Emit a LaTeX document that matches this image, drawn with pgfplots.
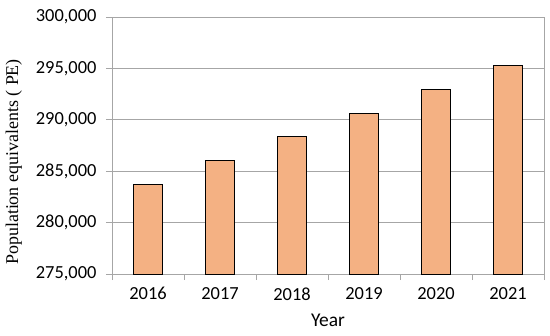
\documentclass[border=0pt]{standalone}
\usepackage{fontspec}
\setmainfont{Carlito}
\newfontfamily\labserif{Liberation Serif}
\usepackage{pgfplots}
\pgfplotsset{compat=1.18}
\definecolor{barfill}{HTML}{F4B183}
\definecolor{gridgray}{HTML}{A6A6A6}
\begin{document}
\begin{tikzpicture}
\useasboundingbox (-112bp,-62bp) rectangle (438bp,274bp);
\begin{axis}[
  at={(0,0)}, anchor=south west,
  scale only axis,
  width=432bp, height=257bp,
  ybar, bar width=29bp,
  xmin=-0.5, xmax=5.5,
  ymin=275000, ymax=300000,
  scaled y ticks=false,
  xtick={0,1,2,3,4,5},
  xticklabels={2016,2017,2018,2019,2020,2021},
  major x tick style={draw=none},
  minor xtick={-0.5,0.5,1.5,2.5,3.5,4.5,5.5},
  minor tick length=6bp,
  ytick={275000,280000,285000,290000,295000,300000},
  yticklabels={{275,000},{280,000},{285,000},{290,000},{295,000},{300,000}},
  major tick length=6bp,
  tick align=outside,
  tick pos=left,
  every tick/.style={gridgray, line width=0.8bp},
  ymajorgrids,
  grid style={gridgray, line width=0.8bp},
  axis line style={gridgray, line width=0.8bp},
  tick label style={font=\fontsize{18.5}{20}\selectfont},
  xticklabel style={yshift=-4bp},
  yticklabel style={xshift=-6bp},
  ylabel={Population equivalents ( PE)},
  ylabel style={at={(axis description cs:-0.227,0.436)}, anchor=center, rotate=0, font=\labserif\fontsize{18}{22}\selectfont},
  xlabel={Year},
  xlabel style={at={(axis description cs:0.5,0)}, anchor=center, yshift=-46bp, font=\fontsize{19.5}{22}\selectfont},
]
\addplot[draw=black, line width=1bp, fill=barfill] coordinates {
(0,283750) (1,286050) (2,288350) (3,290650) (4,292950) (5,295250)};
\end{axis}
\end{tikzpicture}
\end{document}
